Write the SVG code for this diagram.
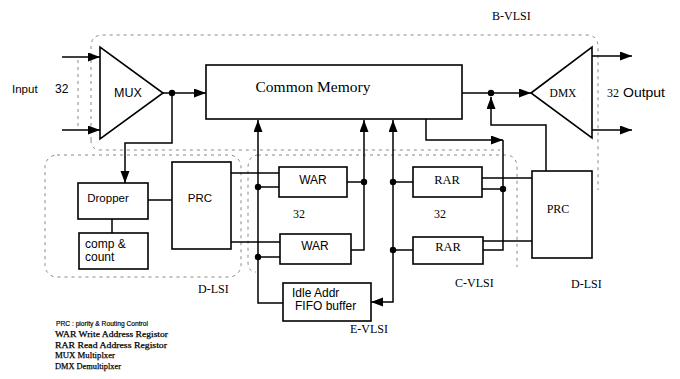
<svg xmlns="http://www.w3.org/2000/svg" width="680" height="379" viewBox="0 0 680 379">
<defs>
<marker id="arr" markerUnits="userSpaceOnUse" markerWidth="13" markerHeight="10" refX="12" refY="4.5" orient="auto">
<path d="M0,0 L12,4.5 L0,9 z" fill="#000"/>
</marker>
<style>
.box{fill:#fff;stroke:#000;stroke-width:1.6}
.ln{fill:none;stroke:#000;stroke-width:1.5}
.ar{fill:none;stroke:#000;stroke-width:1.5;marker-end:url(#arr)}
.reg{fill:none;stroke:#888;stroke-width:1;stroke-dasharray:3 4}
.dot{fill:#000}
.sans{font-family:"Liberation Sans","DejaVu Sans",sans-serif;fill:#000}
.serif{font-family:"Liberation Serif","DejaVu Serif",serif;fill:#000}
.leg{font-family:"Liberation Serif","DejaVu Serif",serif;fill:#000;font-size:9px;stroke:#000;stroke-width:0.25}
</style>
</defs>
<rect width="680" height="379" fill="#fff"/>

<g id="regions">
<path class="reg" d="M91 140 V47 Q91 35 103 35 H586 Q598 35 598 47 V190"/>
<path class="reg" d="M91 140 Q91 150 101 150 H500"/>
<rect class="reg" x="45" y="155" width="196" height="122" rx="12"/>
<path class="reg" d="M258 155 Q248 156 248 168 V262 Q248 272 256 272"/>
<path class="reg" d="M258 155 H505 Q516 155 517 166 V267"/>
<line class="reg" x1="78" y1="60" x2="78" y2="127"/>
</g>

<g id="connectors">
<path class="ar" d="M62 57 H100"/>
<path class="ar" d="M62 130 H100"/>
<path class="ar" d="M163 93 H206"/>
<path class="ar" d="M172 93 V143 H125 V183"/>
<path class="ln" d="M148 200 H172"/>
<path class="ln" d="M112 219 V233"/>
<path class="ln" d="M231 173 H279"/>
<path class="ln" d="M231 242 H280"/>
<path class="ar" d="M283 303 H258 V120"/>
<path class="ln" d="M258 187 H279"/>
<path class="ln" d="M258 257 H280"/>
<path class="ln" d="M347 182 H364"/>
<path class="ar" d="M351 250 H364 V120"/>
<path class="ar" d="M393 250 V120"/>
<path class="ar" d="M393 249 V302 H371"/>
<path class="ln" d="M393 182 H413"/>
<path class="ln" d="M393 250 H413"/>
<path class="ln" d="M482 178 H532"/>
<path class="ln" d="M482 189 H503"/>
<path class="ln" d="M483 241 H532"/>
<path class="ln" d="M483 250 H503 V140"/>
<path class="ar" d="M426 119 V140 H503"/>
<path class="ar" d="M462 93 H531"/>
<path class="ar" d="M546 171 V125 H491 V97"/>
<path class="ar" d="M592 56 H632"/>
<path class="ar" d="M592 130 H632"/>
<circle class="dot" cx="172" cy="93" r="3.2"/>
<circle class="dot" cx="258" cy="187" r="3.2"/>
<circle class="dot" cx="258" cy="257" r="3.2"/>
<circle class="dot" cx="364" cy="182" r="3.2"/>
<circle class="dot" cx="393" cy="182" r="3.2"/>
<circle class="dot" cx="393" cy="250" r="3.2"/>
<circle class="dot" cx="503" cy="189" r="3.2"/>
<circle class="dot" cx="491" cy="93" r="3.2"/>
</g>

<g id="mux">
<polygon class="box" points="100,47 100,139 163,93"/>
<text class="sans" x="128" y="97" font-size="12.5" text-anchor="middle">MUX</text>
</g>
<g id="memory">
<rect class="box" x="206" y="65" width="256" height="54"/>
<text class="serif" x="313" y="92" font-size="15.5" text-anchor="middle">Common Memory</text>
</g>
<g id="dmx">
<polygon class="box" points="531,93 592,47 592,138"/>
<text class="serif" x="563" y="97" font-size="11.5" text-anchor="middle">DMX</text>
</g>
<g id="dropper">
<rect class="box" x="78" y="183" width="70" height="36"/>
<text class="sans" x="108" y="202" font-size="11.5" text-anchor="middle">Dropper</text>
</g>
<g id="comp">
<rect class="box" x="79" y="233" width="69" height="36"/>
<text class="sans" x="85" y="248" font-size="12">comp &amp;</text>
<text class="sans" x="85" y="261" font-size="12">count</text>
</g>
<g id="prc-left">
<rect class="box" x="172" y="162" width="59" height="87"/>
<text class="sans" x="200" y="202" font-size="11.5" text-anchor="middle">PRC</text>
</g>
<g id="war1">
<rect class="box" x="279" y="167" width="68" height="30"/>
<text class="sans" x="313" y="184" font-size="12" text-anchor="middle">WAR</text>
</g>
<g id="war2">
<rect class="box" x="280" y="234" width="71" height="30"/>
<text class="sans" x="315" y="250" font-size="12" text-anchor="middle">WAR</text>
</g>
<g id="rar1">
<rect class="box" x="413" y="167" width="69" height="30"/>
<text class="serif" x="447" y="184" font-size="12.5" text-anchor="middle">RAR</text>
</g>
<g id="rar2">
<rect class="box" x="413" y="237" width="70" height="27"/>
<text class="serif" x="448" y="251" font-size="12.5" text-anchor="middle">RAR</text>
</g>
<g id="idle">
<rect class="box" x="283" y="283" width="88" height="38"/>
<text class="sans" x="292" y="297" font-size="12">Idle Addr</text>
<text class="sans" x="295" y="310" font-size="12">FIFO buffer</text>
</g>
<g id="prc-right">
<rect class="box" x="532" y="171" width="60" height="87"/>
<text class="serif" x="558" y="213" font-size="12" text-anchor="middle">PRC</text>
</g>

<g id="labels">
<text class="sans" x="12" y="93" font-size="11.5">Input</text>
<text class="sans" x="55" y="93" font-size="12">32</text>
<text class="serif" x="607" y="97" font-size="12">32</text>
<text class="sans" x="623" y="97" font-size="12" textLength="42" lengthAdjust="spacingAndGlyphs">Output</text>
<text class="serif" x="492" y="20" font-size="12">B-VLSI</text>
<text class="serif" x="198" y="293" font-size="12">D-LSI</text>
<text class="serif" x="571" y="288" font-size="12">D-LSI</text>
<text class="serif" x="455" y="287" font-size="12">C-VLSI</text>
<text class="serif" x="350" y="333" font-size="12">E-VLSI</text>
<text class="serif" x="293" y="218" font-size="12">32</text>
<text class="serif" x="434" y="218" font-size="12">32</text>
</g>

<g id="legend">
<text class="sans" x="56" y="326" font-size="8" textLength="92" lengthAdjust="spacingAndGlyphs" stroke="#000" stroke-width="0.2">PRC : piority &amp; Routing Control</text>
<text class="leg" x="55" y="337" textLength="113" lengthAdjust="spacingAndGlyphs">WAR  Write Address Registor</text>
<text class="leg" x="55" y="347.5" textLength="112" lengthAdjust="spacingAndGlyphs">RAR  Read Address Registor</text>
<text class="leg" x="55" y="358" textLength="60" lengthAdjust="spacingAndGlyphs">MUX  Multiplxer</text>
<text class="leg" x="55" y="368.5" textLength="66" lengthAdjust="spacingAndGlyphs">DMX  Demultiplxer</text>
</g>
</svg>
